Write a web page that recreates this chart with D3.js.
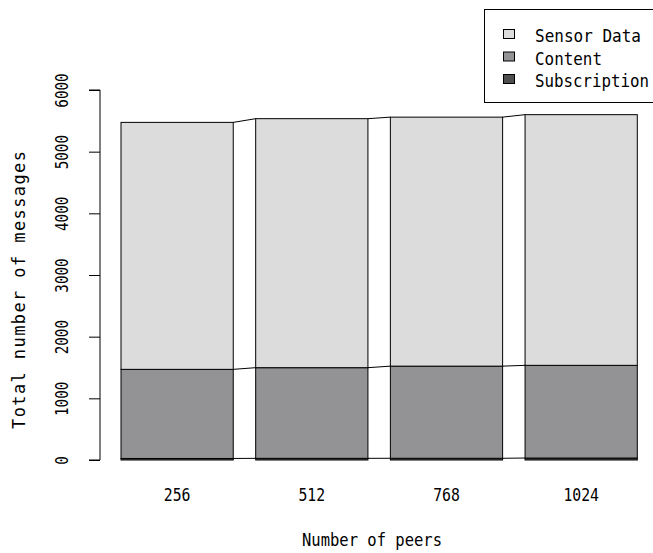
<!DOCTYPE html>
<html>
<head>
<meta charset="utf-8">
<script src="https://cdn.jsdelivr.net/npm/d3@7/dist/d3.min.js"></script>
<style>
html,body{margin:0;padding:0;background:#fff;}
text{font-family:"DejaVu Sans Mono",monospace;fill:#000;}
</style>
</head>
<body>
<svg id="chart" width="653" height="553"></svg>
<script>
// ---- data ----
const categories = ["256", "512", "768", "1024"];
const seriesNames = ["Subscription", "Content", "Sensor Data"];
const subscription = [25, 27, 28, 32];
const content = [1445, 1470, 1494, 1503];
const sensorData = [4005, 4038, 4038, 4065];
const yTicks = [0, 1000, 2000, 3000, 4000, 5000, 6000];
const legendOrder = ["Sensor Data", "Content", "Subscription"];

const colors = {"Sensor Data": "#dcdcdc", "Content": "#939396", "Subscription": "#4f4f4f"};

const svg = d3.select("#chart");

const rows = categories.map((c, i) => ({
  cat: c,
  "Subscription": subscription[i],
  "Content": content[i],
  "Sensor Data": sensorData[i]
}));
const stacked = d3.stack().keys(seriesNames)(rows);

const x = d3.scaleBand().domain(categories).range([121, 637.3]).paddingInner(1/6).paddingOuter(0);
const y = d3.scaleLinear().domain([0, 6000]).range([460, 90]);

// bars
const g = svg.append("g");
stacked.forEach(layer => {
  g.selectAll(null).data(layer).enter().append("rect")
    .attr("x", d => x(d.data.cat))
    .attr("width", x.bandwidth())
    .attr("y", d => y(d[1]))
    .attr("height", d => y(d[0]) - y(d[1]))
    .attr("fill", colors[layer.key])
    .attr("stroke", "#000")
    .attr("stroke-width", 1);
});

// connecting lines between adjacent bars at each cumulative top
stacked.forEach(layer => {
  for (let i = 0; i < layer.length - 1; i++) {
    g.append("line")
      .attr("x1", x(categories[i]) + x.bandwidth())
      .attr("x2", x(categories[i + 1]))
      .attr("y1", y(layer[i][1]))
      .attr("y2", y(layer[i + 1][1]))
      .attr("stroke", "#000")
      .attr("stroke-width", 1);
  }
});

// y axis
const yAxis = d3.axisLeft(y).tickValues(yTicks).tickSize(11).tickPadding(0).tickFormat(d3.format("d"));
const ya = svg.append("g").attr("transform", "translate(100,0)").call(yAxis);
ya.select(".domain").attr("d", `M-11,${y(0)}H0V${y(6000)}H-11`).attr("stroke", "#000");
ya.selectAll(".tick line").attr("stroke", "#000");
ya.selectAll(".tick text")
  .attr("x", 0).attr("y", 0).attr("dy", null)
  .attr("text-anchor", "middle")
  .attr("transform", "translate(-32,0) rotate(-90)")
  .attr("font-size", 18)
  .attr("textLength", d => String(d).length * 8.6)
  .attr("lengthAdjust", "spacingAndGlyphs")
  .style("font-family", '"DejaVu Sans Mono",monospace');

// x tick labels
const xAxis = d3.axisBottom(x).tickSize(0).tickPadding(0);
const xa = svg.append("g").call(xAxis);
xa.select(".domain").remove();
xa.selectAll(".tick text")
  .attr("y", 501).attr("dy", null)
  .attr("font-size", 18)
  .attr("textLength", d => d.length * 8.9)
  .attr("lengthAdjust", "spacingAndGlyphs")
  .style("font-family", '"DejaVu Sans Mono",monospace');

// axis titles
svg.append("text")
  .attr("x", 372).attr("y", 546)
  .attr("text-anchor", "middle")
  .attr("font-size", 18)
  .attr("textLength", 140)
  .attr("lengthAdjust", "spacingAndGlyphs")
  .text("Number of peers");

svg.append("text")
  .attr("transform", "translate(25,290) rotate(-90)")
  .attr("text-anchor", "middle")
  .attr("font-size", 17)
  .attr("textLength", 278)
  .attr("lengthAdjust", "spacing")
  .text("Total number of messages");

// legend
const lg = svg.append("g");
lg.append("rect")
  .attr("x", 484.5).attr("y", 9.5).attr("width", 200).attr("height", 93)
  .attr("fill", "#fff").attr("stroke", "#000");
const legendW = {"Sensor Data": 106, "Content": 67, "Subscription": 114};
legendOrder.forEach((name, i) => {
  const by = 42 + i * 22.5;
  lg.append("rect")
    .attr("x", 503.5).attr("y", by - 12.5)
    .attr("width", 11).attr("height", 9)
    .attr("fill", colors[name]).attr("stroke", "#000");
  lg.append("text")
    .attr("x", 535).attr("y", by)
    .attr("font-size", 18)
    .attr("textLength", legendW[name])
    .attr("lengthAdjust", "spacingAndGlyphs")
    .text(name);
});
</script>
</body>
</html>
